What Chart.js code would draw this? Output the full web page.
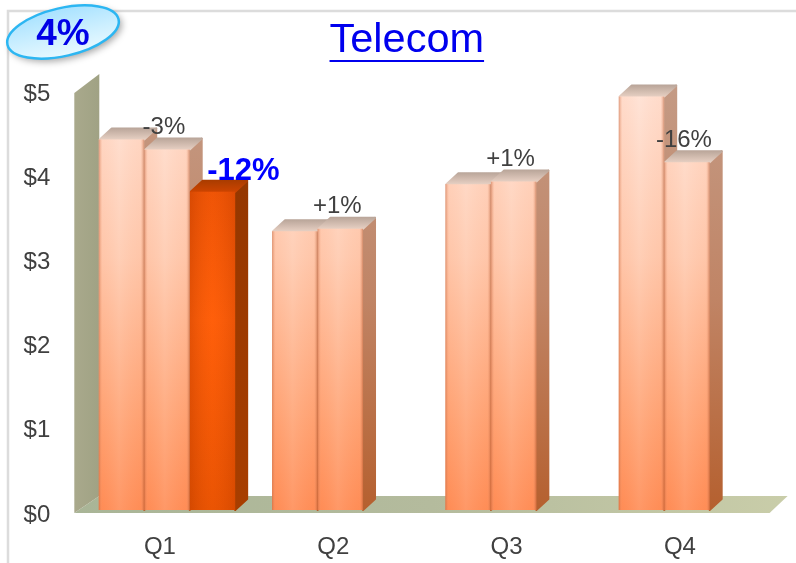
<!DOCTYPE html>
<html>
<head>
<meta charset="utf-8">
<title>Telecom</title>
<script src="https://cdn.jsdelivr.net/npm/chart.js@4"></script>
<style>html,body{margin:0;padding:0;background:#fff}canvas{display:block}</style>
</head>
<body>
<canvas id="c" width="796" height="563"></canvas>
<script>
const categories = ['Q1', 'Q2', 'Q3', 'Q4'];
const seriesA = [4.40, 3.31, 3.87, 4.91];
const seriesB = [4.28, 3.34, 3.90, 4.13];
const seriesC = [3.78, null, null, null];
const changeText = ['-3%', '-12%', '+1%', '+1%', '-16%'];
const changeCategory = [0, 0, 1, 2, 3];
const changeSeries = [1, 2, 1, 1, 1];
const headlineBadge = '4%';
const chartTitle = 'Telecom';

const FONT = '"Liberation Sans", Arial, sans-serif';
const GREY = '#404040';
const DX = 13, DY = 12;

function frontFill(hot) {
  return (ctx) => {
    const a = ctx.chart.chartArea;
    if (!a) return hot ? '#f05000' : '#ffa070';
    const g = ctx.chart.ctx.createLinearGradient(0, a.top, 0, a.bottom);
    if (hot) {
      g.addColorStop(0, '#e04800');
      g.addColorStop(0.55, '#ff5c08');
      g.addColorStop(1, '#e85000');
    } else {
      g.addColorStop(0, '#ffe0d2');
      g.addColorStop(0.4, '#ffc8ac');
      g.addColorStop(0.8, '#ff9f6e');
      g.addColorStop(1, '#ff8a52');
    }
    return g;
  };
}

function softQuad(c, pts, fill) {
  c.save();
  c.fillStyle = fill;
  c.strokeStyle = fill;
  c.lineWidth = 2;
  c.lineJoin = 'round';
  c.beginPath();
  pts.forEach((p, i) => (i ? c.lineTo(p[0], p[1]) : c.moveTo(p[0], p[1])));
  c.closePath();
  c.fill();
  c.stroke();
  c.restore();
}

const depthPlugin = {
  id: 'depth',
  beforeDraw(chart) {
    const c = chart.ctx;
    c.save();
    c.fillStyle = '#fff';
    c.fillRect(0, 0, chart.width, chart.height);
    c.strokeStyle = '#dcdcdc';
    c.lineWidth = 2.5;
    c.beginPath();
    c.moveTo(8, chart.height);
    c.lineTo(8, 11);
    c.lineTo(chart.width, 11);
    c.stroke();
    c.restore();
  },
  beforeDatasetsDraw(chart) {
    const c = chart.ctx, a = chart.chartArea;
    const wx0 = a.left - 6, wx1 = a.left + 19;
    const front = a.bottom + 3, back = a.bottom - 14;
    c.save();
    // floor
    const fg = c.createLinearGradient(wx0, 0, a.right + 14, 0);
    fg.addColorStop(0, '#a9b597');
    fg.addColorStop(0.5, '#b4bb9d');
    fg.addColorStop(1, '#c9cda9');
    c.fillStyle = fg;
    c.beginPath();
    c.moveTo(wx0, front);
    c.lineTo(wx1, back);
    c.lineTo(a.right + 14, back);
    c.lineTo(a.right - 4, front);
    c.closePath();
    c.fill();
    // back wall side
    const wg = c.createLinearGradient(wx0, 0, wx1, 0);
    wg.addColorStop(0, '#a9a98c');
    wg.addColorStop(1, '#a0a284');
    c.fillStyle = wg;
    c.beginPath();
    c.moveTo(wx0, a.top + 4);
    c.lineTo(wx1, a.top - 15);
    c.lineTo(wx1, back);
    c.lineTo(wx0, front);
    c.closePath();
    c.fill();
    // bar side and top faces, left to right
    chart.data.datasets.forEach((ds, di) => {
      chart.getDatasetMeta(di).data.forEach((el, i) => {
        if (ds.data[i] == null) return;
        const hot = di === 2;
        const l = el.x - el.width / 2, r = el.x + el.width / 2, t = el.y, b = el.base;
        const sg = c.createLinearGradient(0, a.top, 0, a.bottom);
        if (hot) { sg.addColorStop(0, '#8f3500'); sg.addColorStop(1, '#a83e00'); }
        else { sg.addColorStop(0, '#c49a84'); sg.addColorStop(0.5, '#c08465'); sg.addColorStop(1, '#b5602f'); }
        softQuad(c, [[r, t], [r + DX - 1, t - DY + 1], [r + DX - 1, b - DY + 1], [r, b]], sg);
        const tg = c.createLinearGradient(0, t - DY, 0, t);
        if (hot) { tg.addColorStop(0, '#a83c00'); tg.addColorStop(1, '#cc4400'); }
        else { tg.addColorStop(0, '#b8a498'); tg.addColorStop(1, '#e6cfc2'); }
        softQuad(c, [[l + 1, t], [l + DX, t - DY + 1], [r + DX - 1, t - DY + 1], [r, t]], tg);
      });
    });
    c.restore();
  },
  afterDatasetsDraw(chart) {
    const c = chart.ctx;
    c.save();
    chart.data.datasets.forEach((ds, di) => {
      chart.getDatasetMeta(di).data.forEach((el, i) => {
        if (ds.data[i] == null) return;
        const l = el.x - el.width / 2, r = el.x + el.width / 2;
        const g = c.createLinearGradient(l, 0, r, 0);
        if (di === 2) {
          g.addColorStop(0, 'rgba(150,50,0,0.25)');
          g.addColorStop(0.5, 'rgba(255,120,30,0.1)');
          g.addColorStop(1, 'rgba(150,50,0,0.2)');
        } else {
          g.addColorStop(0, 'rgba(190,95,55,0.55)');
          g.addColorStop(0.08, 'rgba(255,170,130,0.08)');
          g.addColorStop(0.45, 'rgba(255,255,255,0.12)');
          g.addColorStop(0.92, 'rgba(255,170,130,0.08)');
          g.addColorStop(1, 'rgba(170,80,40,0.55)');
        }
        c.fillStyle = g;
        c.fillRect(l, el.y, r - l, el.base - el.y);
      });
    });
    c.restore();
  },
  afterLayout(chart) {
    chart.titleBlock.left += 20;
    chart.titleBlock.right += 20;
  },
  afterDraw(chart) {
    const c = chart.ctx;
    c.save();
    // underline of the title
    const tb = chart.titleBlock;
    const mid = (tb.left + tb.right) / 2;
    c.font = '41.5px ' + FONT;
    const w = c.measureText(chartTitle).width;
    c.strokeStyle = '#0000ee';
    c.lineWidth = 2;
    c.beginPath();
    c.moveTo(mid - w / 2, 61);
    c.lineTo(mid + w / 2, 61);
    c.stroke();

    // change labels
    c.textAlign = 'center';
    c.textBaseline = 'middle';
    changeText.forEach((txt, k) => {
      const el = chart.getDatasetMeta(changeSeries[k]).data[changeCategory[k]];
      const hot = changeSeries[k] === 2;
      c.font = (hot ? 'bold 31px ' : '24px ') + FONT;
      c.fillStyle = hot ? '#0000ff' : GREY;
      c.fillText(txt, el.x + (hot ? 31 : -3), el.y + (hot ? -20 : -22));
    });

    // badge
    c.save();
    c.translate(63, 32);
    c.rotate(-13 * Math.PI / 180);
    c.shadowColor = 'rgba(0,0,0,0.35)';
    c.shadowBlur = 7;
    c.shadowOffsetX = 3;
    c.shadowOffsetY = 3;
    const bg = c.createLinearGradient(0, -24, 0, 24);
    bg.addColorStop(0, '#a8e2ff');
    bg.addColorStop(0.55, '#ccefff');
    bg.addColorStop(1, '#e8f9ff');
    c.fillStyle = bg;
    c.beginPath();
    c.ellipse(0, 0, 57, 24, 0, 0, Math.PI * 2);
    c.fill();
    c.shadowColor = 'transparent';
    c.strokeStyle = '#2cb6f2';
    c.lineWidth = 2.5;
    c.stroke();
    c.restore();
    c.font = 'bold 37px ' + FONT;
    c.fillStyle = '#0000e6';
    c.fillText(headlineBadge, 63, 35);
    c.restore();
  }
};

new Chart(document.getElementById('c'), {
  type: 'bar',
  data: {
    labels: categories,
    datasets: [
      { label: 'A', data: seriesA, backgroundColor: frontFill(false) },
      { label: 'B', data: seriesB, backgroundColor: frontFill(false) },
      { label: 'C', data: seriesC, backgroundColor: frontFill(true) }
    ]
  },
  options: {
    responsive: false,
    animation: false,
    events: [],
    layout: { padding: { left: 0, right: 22.4, top: 0, bottom: 0 } },
    datasets: { bar: { categoryPercentage: 0.787, barPercentage: 1, borderWidth: 0 } },
    plugins: {
      legend: { display: false },
      tooltip: { enabled: false },
      title: {
        display: true,
        text: chartTitle,
        color: '#0000ee',
        font: { family: FONT, size: 41.5, weight: 'normal', lineHeight: 1.2 },
        padding: { top: 16, bottom: 23.2 }
      }
    },
    scales: {
      x: {
        grid: { display: false, drawTicks: false },
        border: { display: false },
        ticks: { color: GREY, font: { family: FONT, size: 24 }, padding: 23, labelOffset: -7, maxRotation: 0 },
        afterFit(s) { s.height = 53; }
      },
      y: {
        min: 0,
        max: 5,
        grid: { display: false, drawTicks: false },
        border: { display: false },
        ticks: {
          stepSize: 1,
          color: GREY,
          font: { family: FONT, size: 24 },
          padding: 30,
          labelOffset: 5,
          callback: (v) => '$' + v
        },
        afterFit(s) { s.width = 80.3; }
      }
    }
  },
  plugins: [depthPlugin]
});
</script>
</body>
</html>
